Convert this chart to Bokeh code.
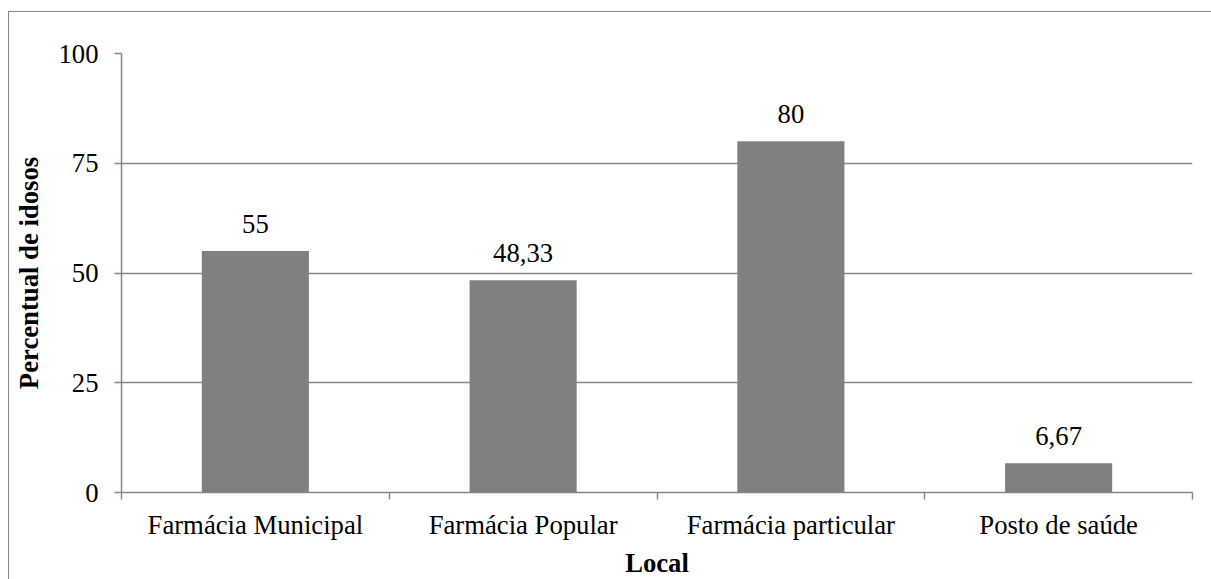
from bokeh.plotting import figure
from bokeh.models import ColumnDataSource, FixedTicker, Range1d, LabelSet
from bokeh.core.properties import value
from bokeh.embed import file_html
from bokeh.resources import INLINE

categories = ["Farmácia Municipal", "Farmácia Popular", "Farmácia particular", "Posto de saúde"]
percentual = [55, 48.33, 80, 6.67]
y_ticks = [0, 25, 50, 75, 100]

FONT = "Liberation Serif"
SIZE = "26.7px"
GRID = "#878787"

xpos = [i + 0.5 for i in range(len(categories))]
labels = [f"{v:g}".replace(".", ",") for v in percentual]
src = ColumnDataSource(dict(x=xpos, top=percentual, label=labels))

p = figure(
    width=1203, height=568,
    x_range=Range1d(0, len(categories)), y_range=Range1d(0, 100),
    output_backend="svg", toolbar_location=None,
    min_border_left=112, min_border_right=20, min_border_top=41, min_border_bottom=88,
    margin=(11, 0, 0, 8),
)
p.styles = {"border-left": f"1.5px solid {GRID}", "border-top": f"1.5px solid {GRID}"}
p.outline_line_color = None
p.background_fill_color = "white"
p.border_fill_color = "white"

p.vbar(x="x", top="top", bottom=0, width=0.4, source=src, fill_color="#808080", line_color=None)

p.add_layout(LabelSet(x="x", y="top", text="label", source=src, text_align="center",
                      text_baseline="alphabetic", y_offset=18, text_font=value(FONT),
                      text_font_size=value(SIZE), text_color="black"))

# x axis: category names at centres, tick marks at the boundaries
xa = p.xaxis[0]
xa.ticker = FixedTicker(ticks=xpos, minor_ticks=list(range(len(categories) + 1)))
xa.major_label_overrides = {x: c for x, c in zip(xpos, categories)}
xa.major_tick_line_color = None
xa.minor_tick_in = 0
xa.minor_tick_out = 7
xa.minor_tick_line_color = GRID
xa.minor_tick_line_width = 1.5
xa.axis_line_color = GRID
xa.axis_line_width = 1.5
xa.major_label_text_font = FONT
xa.major_label_text_font_size = SIZE
xa.major_label_text_color = "black"
xa.major_label_standoff = 10
xa.axis_label = "Local"
xa.axis_label_text_font = FONT
xa.axis_label_text_font_size = SIZE
xa.axis_label_text_font_style = "bold"
xa.axis_label_text_color = "black"
xa.axis_label_standoff = 5

ya = p.yaxis[0]
ya.ticker = FixedTicker(ticks=y_ticks)
ya.minor_tick_line_color = None
ya.major_tick_in = 0
ya.major_tick_out = 7
ya.major_tick_line_color = GRID
ya.major_tick_line_width = 1.5
ya.axis_line_color = GRID
ya.axis_line_width = 1.5
ya.major_label_text_font = FONT
ya.major_label_text_font_size = SIZE
ya.major_label_text_color = "black"
ya.major_label_standoff = 16
ya.axis_label = "Percentual de idosos"
ya.axis_label_text_font = FONT
ya.axis_label_text_font_size = SIZE
ya.axis_label_text_font_style = "bold"
ya.axis_label_text_color = "black"
ya.axis_label_standoff = 11

p.xgrid.grid_line_color = None
p.ygrid.grid_line_color = GRID
p.ygrid.grid_line_width = 1.5

open("out.html", "w").write(file_html(p, INLINE))
